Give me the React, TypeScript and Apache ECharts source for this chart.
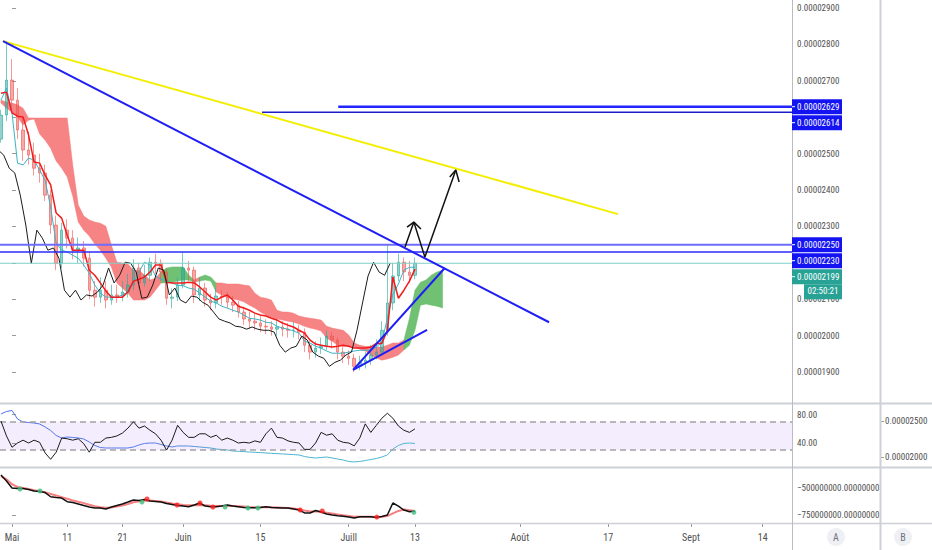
import React, { useEffect, useRef } from "react";
import * as echarts from "echarts";

const FONT = "'Liberation Sans Narrow', 'Roboto Condensed', 'DejaVu Sans Condensed', sans-serif";

// ---- time: day numbers counted from 1 May (day 0), one candle per day, day -2 .. 73
const FIRST_DAY = -2;
const dateTickDays = [0, 10, 20, 31, 45, 61, 73, 92, 108, 123, 136];
const dateTickLabels = ["Mai", "11", "21", "Juin", "15", "Juill", "13", "Août", "17", "Sept", "14"];

// ---- prices in units of 1e-8
const priceTicks = [1900, 2000, 2100, 2200, 2300, 2400, 2500, 2600, 2700, 2800, 2900];
// 0.00002200 and 0.00002600 sit under the price-label boxes and are not shown
const priceLabels = [1900, 2000, 2100, 2300, 2400, 2500, 2700, 2800, 2900];
const firstOpen = 2540;
const closes = [2606, 2702, 2647, 2565, 2510, 2496, 2460, 2447, 2386, 2304, 2199, 2290, 2268, 2235, 2241, 2213, 2125, 2106, 2125, 2098, 2112, 2109, 2120, 2139, 2186, 2145, 2166, 2202, 2199, 2175, 2103, 2106, 2139, 2186, 2180, 2112, 2131, 2098, 2090, 2109, 2106, 2092, 2084, 2065, 2046, 2040, 2035, 2026, 2024, 2018, 2024, 2018, 2015, 2015, 2010, 1974, 1955, 1966, 1971, 1999, 1988, 1955, 1944, 1938, 1916, 1927, 1933, 1947, 1955, 2015, 2090, 2164, 2202, 2175, 2166, 2199];
const highs = [2620, 2810, 2760, 2680, 2600, 2560, 2530, 2500, 2470, 2400, 2330, 2310, 2320, 2290, 2270, 2260, 2230, 2150, 2160, 2150, 2140, 2140, 2150, 2170, 2210, 2200, 2195, 2215, 2225, 2210, 2185, 2130, 2160, 2230, 2205, 2190, 2160, 2145, 2115, 2130, 2125, 2120, 2110, 2095, 2080, 2065, 2060, 2055, 2045, 2040, 2045, 2040, 2035, 2038, 2030, 2020, 1985, 1985, 1995, 2015, 2010, 1995, 1970, 1960, 1950, 1945, 1955, 1975, 1990, 2040, 2250, 2200, 2225, 2215, 2205, 2215];
const lows = [2530, 2590, 2620, 2540, 2480, 2470, 2440, 2420, 2370, 2280, 2180, 2185, 2240, 2210, 2200, 2190, 2100, 2080, 2090, 2075, 2085, 2090, 2095, 2105, 2125, 2130, 2135, 2150, 2170, 2150, 2085, 2075, 2095, 2130, 2150, 2090, 2095, 2080, 2070, 2075, 2085, 2075, 2065, 2050, 2030, 2020, 2015, 2010, 2005, 2000, 2000, 1998, 1995, 1995, 1990, 1955, 1935, 1940, 1950, 1960, 1965, 1935, 1925, 1920, 1900, 1905, 1910, 1920, 1935, 1945, 2000, 2070, 2150, 2150, 2145, 2155];
const tenkan = [2647, 2680, 2612, 2474, 2469, 2488, 2482, 2455, 2427, 2353, 2254, 2235, 2230, 2221, 2213, 2194, 2172, 2139, 2117, 2106, 2106, 2106, 2112, 2120, 2145, 2175, 2202, 2194, 2164, 2155, 2150, 2145, 2139, 2137, 2131, 2128, 2117, 2106, 2095, 2090, 2081, 2076, 2070, 2065, 2057, 2048, 2046, 2043, 2037, 2035, 2026, 2021, 2018, 2013, 2007, 1985, 1980, 1971, 1966, 1958, 1952, 1952, 1952, 1955, 1958, 1960, 1960, 1960, 1969, 1982, 2048, 2114, 2142, 2180, 2188, 2188];
const kijun = [2666, 2669, 2612, 2603, 2601, 2551, 2477, 2474, 2441, 2414, 2337, 2323, 2276, 2235, 2235, 2235, 2180, 2166, 2145, 2123, 2106, 2106, 2106, 2120, 2150, 2155, 2161, 2175, 2194, 2194, 2147, 2145, 2145, 2145, 2147, 2145, 2134, 2120, 2106, 2098, 2106, 2112, 2098, 2081, 2076, 2070, 2062, 2057, 2054, 2048, 2043, 2035, 2029, 2024, 2015, 2007, 1988, 1977, 1974, 1971, 1969, 1971, 1974, 1971, 1966, 1966, 1966, 1969, 1979, 1979, 2015, 2161, 2103, 2125, 2150, 2183];
const CHIKOU_SHIFT = 4.5;

// cloud, day -2 .. 78 (already displaced forward)
const CLOUD_FIRST = -2;
const cloudTop = [2647, 2642, 2639, 2634, 2625, 2598, 2598, 2598, 2598, 2598, 2598, 2598, 2598, 2469, 2359, 2329, 2318, 2312, 2309, 2301, 2249, 2202, 2200, 2197, 2180, 2180, 2167, 2153, 2158, 2175, 2186, 2189, 2189, 2189, 2167, 2153, 2161, 2167, 2161, 2145, 2145, 2142, 2142, 2142, 2139, 2137, 2117, 2106, 2103, 2098, 2070, 2065, 2065, 2062, 2054, 2051, 2048, 2046, 2043, 2026, 2021, 2018, 2015, 2002, 1980, 1974, 1971, 1969, 1969, 1969, 1974, 1980, 1980, 1988, 2048, 2125, 2147, 2153, 2167, 2175, 2180];
const cloudBottom = [2639, 2625, 2614, 2601, 2579, 2592, 2595, 2554, 2537, 2515, 2480, 2460, 2436, 2384, 2312, 2290, 2274, 2252, 2235, 2213, 2189, 2145, 2131, 2117, 2098, 2098, 2098, 2106, 2125, 2145, 2145, 2147, 2150, 2153, 2153, 2147, 2150, 2153, 2150, 2120, 2112, 2106, 2101, 2098, 2093, 2084, 2076, 2065, 2057, 2051, 2046, 2043, 2040, 2037, 2032, 2026, 2021, 2018, 2013, 1993, 1985, 1974, 1971, 1971, 1969, 1963, 1958, 1947, 1939, 1933, 1936, 1941, 1947, 1961, 1974, 2015, 2084, 2087, 2084, 2081, 2076];
const cloudRuns: [string, number][] = [["R", 29], ["G", 6], ["R", 1], ["G", 3], ["R", 34], ["G", 8]];

// drawings (price levels / trend lines), [day, price]
const levelValues = [2629, 2614, 2250, 2230, 2199];
const levelStartDays = [59.1, 45.3, null, null, null];
const yellowTrend = [[-1.63, 2809], [109.8, 2334]];
const blueTrend = [[-1.63, 2809], [97.3, 2037]];
const supportSteep = [[61.8, 1906], [78.4, 2186]];
const supportFlat = [[61.8, 1906], [75.2, 2016]];
const arrowPath = [[71.2, 2244], [72.8, 2312], [74.8, 2216], [80.4, 2455]];
const arrowHead1 = [[71.56, 2298], [72.8, 2312], [74.09, 2293]];
const arrowHead2 = [[79.3, 2436], [80.4, 2455], [81.0, 2422]];
const countdownText = "02:50:21";

// ---- RSI pane
const rsiTicks = [40, 80];
const rsi = [71, 50, 34, 40, 44, 40, 44, 41, 26, 17, 27, 47, 46, 44, 46, 39, 27, 41, 41, 47, 48, 50, 54, 61, 70, 61, 64, 58, 53, 44, 30, 44, 65, 55, 48, 48, 53, 53, 48, 51, 44, 47, 44, 40, 41, 40, 43, 41, 53, 61, 48, 47, 43, 41, 40, 31, 31, 40, 55, 51, 53, 44, 41, 40, 36, 47, 67, 55, 65, 75, 82, 75, 64, 58, 55, 60];
const maTicks = [2000, 2500];
const priceMA = [2597, 2632, 2646, 2528, 2486, 2479, 2472, 2458, 2417, 2368, 2299, 2264, 2278, 2271, 2264, 2250, 2208, 2160, 2132, 2125, 2125, 2125, 2125, 2125, 2139, 2167, 2188, 2194, 2194, 2174, 2153, 2139, 2153, 2153, 2153, 2146, 2139, 2132, 2125, 2111, 2104, 2097, 2083, 2079, 2075, 2069, 2065, 2061, 2056, 2051, 2047, 2042, 2038, 2033, 2028, 2007, 1993, 1986, 1993, 2000, 1986, 1972, 1958, 1938, 1931, 1938, 1951, 1965, 1979, 2000, 2028, 2111, 2160, 2188, 2194, 2188];

// ---- volume-flow pane (millions)
const flowTicks = [-750, -500];
const flow = [-380, -435, -500, -505, -505, -514, -528, -532, -542, -581, -588, -593, -627, -634, -648, -662, -676, -685, -685, -694, -676, -662, -648, -630, -611, -616, -606, -620, -625, -630, -644, -653, -662, -667, -673, -657, -639, -667, -673, -673, -667, -657, -667, -673, -681, -682, -682, -681, -673, -681, -682, -685, -685, -694, -704, -731, -731, -708, -722, -741, -750, -756, -761, -769, -778, -766, -766, -766, -773, -764, -750, -639, -667, -704, -719, -712];
const flowMA = [-390, -420, -465, -490, -500, -510, -520, -530, -540, -555, -570, -585, -600, -615, -628, -640, -655, -668, -678, -683, -680, -672, -662, -648, -632, -622, -615, -615, -620, -625, -635, -643, -650, -657, -660, -660, -657, -660, -664, -667, -667, -665, -666, -668, -672, -676, -678, -679, -678, -679, -681, -683, -685, -689, -696, -708, -718, -718, -720, -728, -737, -745, -752, -758, -765, -767, -767, -766, -768, -766, -760, -735, -712, -700, -706, -712];
const greenDots = [[1.45, -509], [5.07, -528], [23.55, -630], [38.6, -676], [42.75, -685], [44.56, -685], [72.8, -725]];
const redDots = [[24.46, -602], [29.9, -657], [34.06, -639], [36.4, -676], [52.2, -704], [56.2, -713], [66.1, -769]];

// ---- layout
const PLOT_W = 792;
const X_MIN = -12 / 5.52;
const X_MAX = 780 / 5.52;
const RED = "rgba(245,110,110,0.85)";
const GREEN = "rgba(96,186,100,0.9)";
const AXIS_FS = 9;

const days = closes.map((_, i) => FIRST_DAY + i);

function fmtPrice(v: number) {
  return (v * 1e-8).toFixed(8);
}

export default function App() {
  const ref = useRef<HTMLDivElement>(null);

  useEffect(() => {
    if (!ref.current) return;
    const chart = echarts.init(ref.current, undefined, { renderer: "svg" });

    const candleData = closes.map((c, i) => [days[i], i === 0 ? firstOpen : closes[i - 1], c, lows[i], highs[i]]);

    const runItems: number[][] = [];
    let start = 0;
    cloudRuns.forEach(([col, n]) => {
      runItems.push([start, Math.min(start + n, cloudTop.length - 1), col === "G" ? 1 : 0]);
      start += n;
    });

    const thinLine = (data: any[], color: string, width: number, extra: any = {}) => ({
      type: "line",
      xAxisIndex: 0,
      yAxisIndex: 0,
      data,
      showSymbol: false,
      symbol: "none",
      silent: true,
      lineStyle: { color, width },
      z: 5,
      ...extra,
    });

    const levelColors = ["#2424ff", "#1c1cc8", "#6d6dff", "#2a2aff", "#7fd0c6"];
    const levelWidths = [2.5, 1.5, 2, 1.5, 1];
    const levelSeries = levelValues.map((v, i) =>
      thinLine(
        [
          [levelStartDays[i] ?? X_MIN, v],
          [X_MAX, v],
        ],
        levelColors[i],
        levelWidths[i]
      )
    );

    const hiddenX = (gridIndex: number) => ({
      type: "value",
      gridIndex,
      min: X_MIN,
      max: X_MAX,
      axisLine: { show: false },
      axisTick: { show: false },
      axisLabel: { show: false },
      splitLine: { show: false },
    });

    const labelStyle = { color: "#4f4f4f", fontSize: AXIS_FS, fontFamily: FONT };

    const option: any = {
      animation: false,
      backgroundColor: "#ffffff",
      grid: [
        { left: 0, top: 0, width: PLOT_W, height: 402 },
        { left: 0, top: 405, width: PLOT_W, height: 62 },
        { left: 0, top: 469, width: PLOT_W, height: 54 },
      ],
      xAxis: [
        hiddenX(0),
        hiddenX(1),
        {
          type: "value",
          gridIndex: 2,
          min: X_MIN,
          max: X_MAX,
          axisLine: { show: false },
          axisTick: { show: true, customValues: dateTickDays, length: 4, lineStyle: { color: "#9a9a9a" } },
          axisLabel: {
            show: true,
            customValues: dateTickDays,
            margin: 9,
            color: "#4f4f4f",
            fontSize: 10,
            fontFamily: FONT,
            formatter: (v: number) => {
              let best = 0;
              dateTickDays.forEach((d, i) => {
                if (Math.abs(d - v) < Math.abs(dateTickDays[best] - v)) best = i;
              });
              return dateTickLabels[best];
            },
          },
          splitLine: { show: false },
        },
      ],
      yAxis: [
        {
          type: "value",
          gridIndex: 0,
          position: "right",
          min: 1818,
          max: 2922,
          axisLine: { show: false },
          axisTick: { show: true, customValues: priceTicks, length: 4, lineStyle: { color: "#9a9a9a" } },
          axisLabel: { show: true, customValues: priceLabels, margin: 5, ...labelStyle, formatter: (v: number) => fmtPrice(v) },
          splitLine: { show: false },
        },
        {
          type: "value",
          gridIndex: 1,
          position: "right",
          min: 6.1,
          max: 93.7,
          axisLine: { show: false },
          axisTick: { show: true, customValues: rsiTicks, length: 4, lineStyle: { color: "#9a9a9a" } },
          axisLabel: { show: true, customValues: rsiTicks, margin: 5, ...labelStyle, formatter: (v: number) => v.toFixed(2) },
          splitLine: { show: false },
        },
        {
          type: "value",
          gridIndex: 1,
          position: "right",
          offset: 88,
          min: 1861,
          max: 2722,
          axisLine: { show: false },
          axisTick: { show: true, customValues: maTicks, length: 4, lineStyle: { color: "#9a9a9a" } },
          axisLabel: { show: true, customValues: maTicks, margin: 5, ...labelStyle, formatter: (v: number) => fmtPrice(v) },
          splitLine: { show: false },
        },
        {
          type: "value",
          gridIndex: 2,
          position: "right",
          min: -824,
          max: -324,
          axisLine: { show: false },
          axisTick: { show: true, customValues: flowTicks, length: 4, lineStyle: { color: "#9a9a9a" } },
          axisLabel: {
            show: true,
            customValues: flowTicks,
            margin: 5,
            ...labelStyle,
            formatter: (v: number) => "\u2212" + (Math.abs(v) * 1e6).toFixed(8),
          },
          splitLine: { show: false },
        },
      ],
      series: [
        {
          type: "custom",
          xAxisIndex: 0,
          yAxisIndex: 0,
          silent: true,
          clip: true,
          z: 1,
          data: runItems,
          renderItem: (params: any, api: any) => {
            const s = api.value(0);
            const e = api.value(1);
            const pts: number[][] = [];
            for (let i = s; i <= e; i++) pts.push(api.coord([CLOUD_FIRST + i, cloudTop[i]]));
            for (let i = e; i >= s; i--) pts.push(api.coord([CLOUD_FIRST + i, cloudBottom[i]]));
            const fill = api.value(2) ? GREEN : RED;
            return { type: "polygon", shape: { points: pts }, style: { fill, stroke: fill, lineWidth: 0.5 } };
          },
        },
        {
          type: "candlestick",
          xAxisIndex: 0,
          yAxisIndex: 0,
          data: candleData,
          encode: { x: 0, y: [1, 2, 3, 4] },
          barWidth: 3,
          silent: true,
          z: 2,
          itemStyle: {
            color: "rgba(38,166,154,0.5)",
            color0: "rgba(239,83,80,0.5)",
            borderColor: "rgba(38,166,154,0.6)",
            borderColor0: "rgba(239,83,80,0.6)",
            borderWidth: 1,
          },
        },
        thinLine(days.map((d, i) => [d, tenkan[i]]), "#3cb4c4", 1),
        thinLine(days.map((d, i) => [d, kijun[i]]), "#f21c1c", 1.5),
        thinLine(days.map((d, i) => [d - CHIKOU_SHIFT, closes[i]]), "#1b1b1b", 1),
        ...levelSeries,
        thinLine(yellowTrend, "#f3ee00", 2),
        thinLine(blueTrend, "#1f1ff5", 2),
        thinLine(supportSteep, "#1f1ff5", 2),
        thinLine(supportFlat, "#1f1ff5", 2),
        thinLine(arrowPath, "#111111", 1.5),
        thinLine(arrowHead1, "#111111", 1.5),
        thinLine(arrowHead2, "#111111", 1.5),
        {
          type: "line",
          xAxisIndex: 1,
          yAxisIndex: 1,
          data: days.map((d, i) => [d, rsi[i]]),
          showSymbol: false,
          symbol: "none",
          silent: true,
          lineStyle: { color: "#1b1b1b", width: 1 },
          z: 5,
          markArea: {
            silent: true,
            itemStyle: { color: "rgba(149,76,233,0.1)" },
            data: [[{ yAxis: 30 }, { yAxis: 70 }]],
          },
          markLine: {
            silent: true,
            symbol: ["none", "none"],
            label: { show: false },
            lineStyle: { color: "#a3a3a3", type: [6, 4], width: 1.5 },
            data: [{ yAxis: 70 }, { yAxis: 30 }],
          },
        },
        {
          type: "line",
          xAxisIndex: 1,
          yAxisIndex: 2,
          data: days.map((d, i) => [d, priceMA[i]]),
          showSymbol: false,
          symbol: "none",
          silent: true,
          z: 4,
          lineStyle: {
            width: 1,
            color: new echarts.graphic.LinearGradient(0, 0, 1, 0, [
              { offset: 0, color: "#4f6ff2" },
              { offset: 0.4, color: "#5a7fe6" },
              { offset: 0.55, color: "#4fb0d0" },
              { offset: 1, color: "#4cb6d6" },
            ]),
          },
        },
        {
          type: "line",
          xAxisIndex: 2,
          yAxisIndex: 3,
          data: days.map((d, i) => [d, flowMA[i]]),
          showSymbol: false,
          symbol: "none",
          silent: true,
          lineStyle: { color: "rgba(244,105,105,0.85)", width: 2 },
          z: 3,
        },
        {
          type: "line",
          xAxisIndex: 2,
          yAxisIndex: 3,
          data: days.map((d, i) => [d, flow[i]]),
          showSymbol: false,
          symbol: "none",
          silent: true,
          lineStyle: { color: "#111111", width: 1.5 },
          z: 4,
        },
        {
          type: "scatter",
          xAxisIndex: 2,
          yAxisIndex: 3,
          data: greenDots,
          symbolSize: 5,
          silent: true,
          itemStyle: { color: "#3fbf7f" },
          z: 6,
        },
        {
          type: "scatter",
          xAxisIndex: 2,
          yAxisIndex: 3,
          data: redDots,
          symbolSize: 5,
          silent: true,
          itemStyle: { color: "#ff1f1f" },
          z: 6,
        },
      ],
    };

    chart.setOption(option);

    const yOf = (v: number) => chart.convertToPixel({ yAxisIndex: 0 }, v) as number;
    const boxes: any[] = [];
    const groups = [
      [0, 1],
      [2, 3, 4],
    ];
    const blue = "#1414f2";
    const teal = "#27a295";
    let countdownY = 0;
    groups.forEach((g) => {
      let prev = -1000;
      g.forEach((li) => {
        const y = Math.max(yOf(levelValues[li]), prev + 16);
        prev = y;
        const fill = li === 4 ? teal : blue;
        boxes.push({ type: "rect", z: 50, shape: { x: 792, y: y - 7.5, width: 50, height: 15 }, style: { fill } });
        boxes.push({ type: "line", z: 51, shape: { x1: 792, y1: y, x2: 795, y2: y }, style: { stroke: "#ffffff", lineWidth: 1 } });
        boxes.push({
          type: "text",
          z: 52,
          style: { text: fmtPrice(levelValues[li]), x: 797, y, fill: "#ffffff", fontSize: AXIS_FS, fontFamily: FONT, verticalAlign: "middle", align: "left" },
        });
        if (li === 4) countdownY = prev + 15;
      });
    });
    boxes.push({ type: "rect", z: 50, shape: { x: 804, y: countdownY - 7.5, width: 38, height: 15 }, style: { fill: teal } });
    boxes.push({
      type: "text",
      z: 52,
      style: { text: countdownText, x: 823, y: countdownY - 1, fill: "#ffffff", fontSize: AXIS_FS, fontFamily: FONT, verticalAlign: "middle", align: "center" },
    });

    const sep = "#cdd0d6";
    const frame: any[] = [
      { type: "line", z: 40, shape: { x1: 0, y1: 403.5, x2: 932, y2: 403.5 }, style: { stroke: sep, lineWidth: 2 } },
      { type: "line", z: 40, shape: { x1: 0, y1: 467.5, x2: 932, y2: 467.5 }, style: { stroke: sep, lineWidth: 2 } },
      { type: "line", z: 40, shape: { x1: 0, y1: 523.5, x2: 932, y2: 523.5 }, style: { stroke: sep, lineWidth: 1.5 } },
      { type: "line", z: 40, shape: { x1: 792.5, y1: 0, x2: 792.5, y2: 550 }, style: { stroke: "#b9bcc3", lineWidth: 1 } },
      { type: "line", z: 40, shape: { x1: 880.5, y1: 0, x2: 880.5, y2: 550 }, style: { stroke: sep, lineWidth: 2 } },
      { type: "circle", z: 40, shape: { cx: 836, cy: 537, r: 9 }, style: { fill: "#eef0f4" } },
      { type: "text", z: 41, style: { text: "A", x: 836, y: 537, fill: "#6f7380", fontSize: 10, fontFamily: FONT, align: "center", verticalAlign: "middle" } },
      { type: "circle", z: 40, shape: { cx: 903, cy: 537, r: 9 }, style: { fill: "#eef0f4" } },
      { type: "text", z: 41, style: { text: "B", x: 903, y: 537, fill: "#6f7380", fontSize: 10, fontFamily: FONT, align: "center", verticalAlign: "middle" } },
    ];

    chart.setOption({ graphic: [...frame, ...boxes] });

    return () => chart.dispose();
  }, []);

  return <div ref={ref} style={{ position: "fixed", left: 0, top: 0, width: 932, height: 550 }} />;
}
